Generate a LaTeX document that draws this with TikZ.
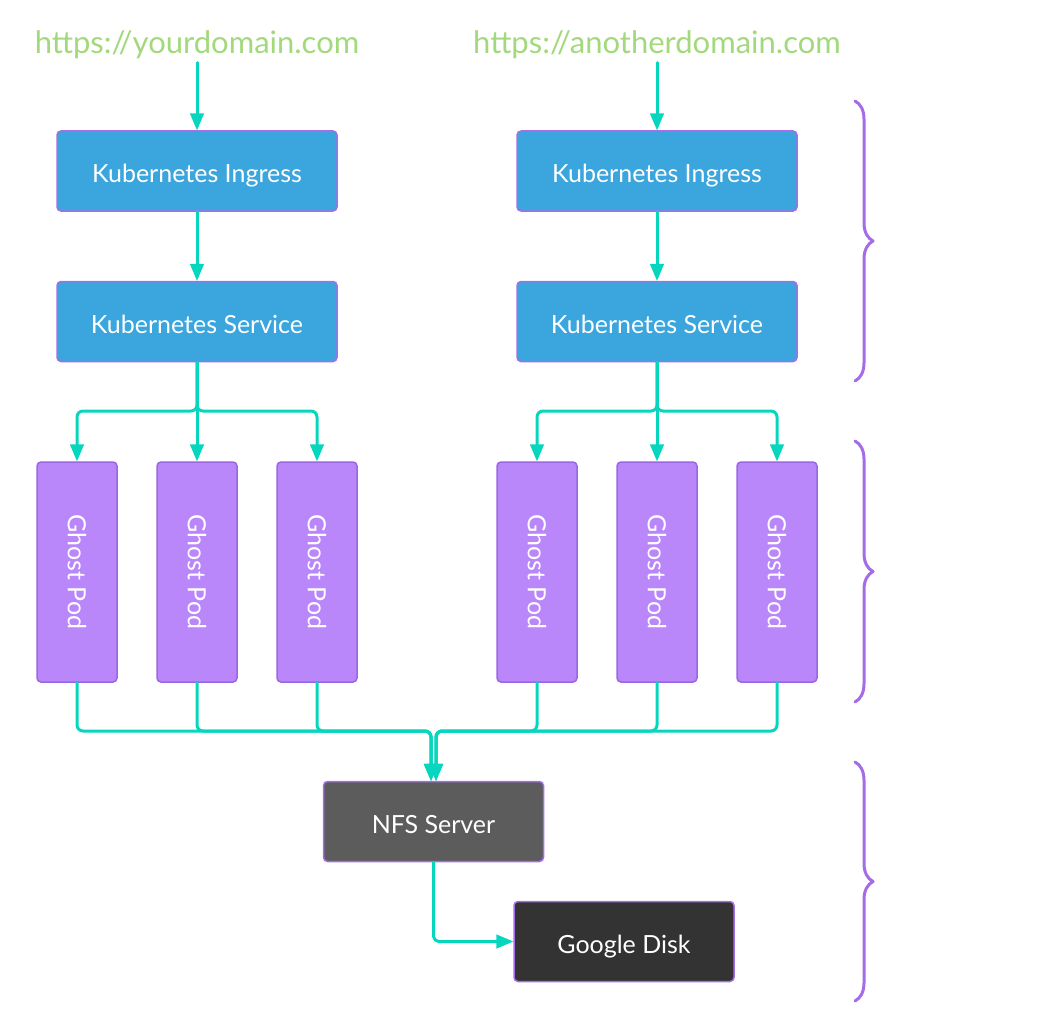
\documentclass[tikz,border=0pt]{standalone}
\usepackage{fontspec}
\setmainfont{Lato}
\usetikzlibrary{arrows}
\usetikzlibrary{decorations.pathreplacing}
\definecolor{flowteal}{HTML}{06D6BE}
\definecolor{kubeblue}{HTML}{3BA5DD}
\definecolor{boxline}{HTML}{A56EE6}
\definecolor{podfill}{HTML}{B987FA}
\definecolor{podline}{HTML}{9C65E2}
\definecolor{nfsgray}{HTML}{5C5C5C}
\definecolor{diskgray}{HTML}{333333}
\definecolor{urlgreen}{HTML}{A2D97C}
\definecolor{bracecol}{HTML}{A46CE6}
\begin{document}
\begin{tikzpicture}[line cap=round,line join=round,>=triangle 45,x=1pt,y=-1pt,
  box/.style={draw=boxline,line width=1.5pt,rounded corners=4pt,minimum width=280pt,minimum height=80pt,text=white,font=\fontsize{25}{30}\selectfont},
  flat/.style={box,text height=23pt,text depth=0pt},
  kube/.style={flat,fill=kubeblue},
  pod/.style={box,fill=podfill,draw=podline,minimum width=80pt,minimum height=220pt},
  url/.style={text=urlgreen,font=\fontsize{31}{36}\selectfont,inner sep=3pt,anchor=base},
  flow/.style={->,draw=flowteal,line width=3pt,rounded corners=6pt},
  curly/.style={decorate,decoration={brace,amplitude=18pt},draw=bracecol,line width=3pt}]
\useasboundingbox (0,0) rectangle (1047,1030);
%
\node[url] (urlA) at (197,54) {https://yourdomain.com};
\node[url] (urlB) at (657,54) {https://anotherdomain.com};
\node[kube] (ingA) at (197,171) {Kubernetes Ingress};
\node[kube] (ingB) at (657,171) {Kubernetes Ingress};
\node[kube] (svcA) at (197,321.5) {Kubernetes Service};
\node[kube] (svcB) at (657,321.5) {Kubernetes Service};
\foreach \x/\n in {77/pA1,197/pA2,317/pA3,537/pB1,657/pB2,777/pB3}
  \node[pod] (\n) at (\x,572) {\rotatebox{-90}{Ghost Pod}};
\node[flat,fill=nfsgray,minimum width=220pt] (nfs) at (433.5,821.5) {NFS Server};
\node[flat,fill=diskgray,minimum width=220pt] (disk) at (624,941.5) {Google Disk};
%
\coordinate (splitA) at (197,411);
\coordinate (splitB) at (657,411);
\coordinate (busA) at (431,731);
\coordinate (busB) at (436,731);
%
\draw[flow] (urlA) -- (ingA);
\draw[flow] (urlB) -- (ingB);
\draw[flow] (ingA) -- (svcA);
\draw[flow] (ingB) -- (svcB);
\foreach \p in {pA1,pA2,pA3}
  \draw[flow] (svcA.south) -- (splitA) -| (\p.north);
\foreach \p in {pB1,pB2,pB3}
  \draw[flow] (svcB.south) -- (splitB) -| (\p.north);
\foreach \p in {pA1,pA2,pA3}
  \draw[flow] (\p.south) |- (busA) -- (busA |- nfs.north);
\foreach \p in {pB1,pB2,pB3}
  \draw[flow] (\p.south) |- (busB) -- (busB |- nfs.north);
\draw[flow] (nfs.south) |- (disk.west);
%
\draw[curly] (855,101) -- (855,381);
\draw[curly] (855,441) -- (855,702);
\draw[curly] (855,762) -- (855,1001);
\end{tikzpicture}
\end{document}
